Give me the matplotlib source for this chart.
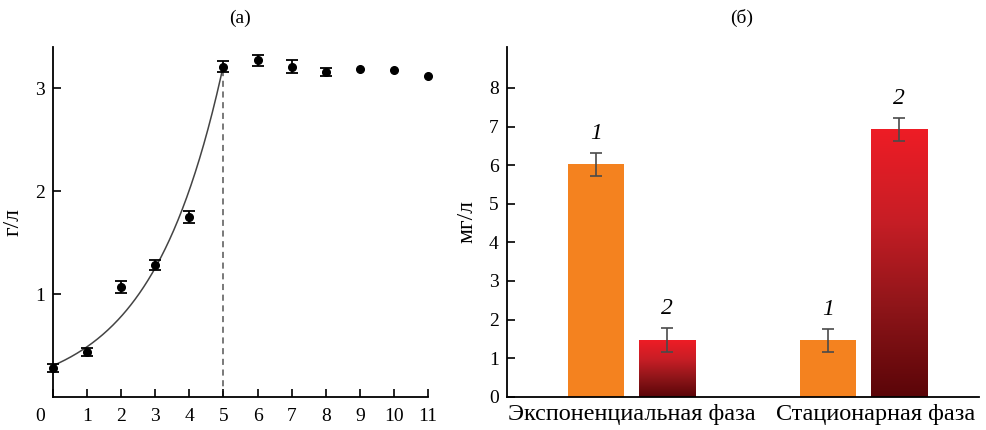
import numpy as np
import matplotlib
matplotlib.use("Agg")
import matplotlib.pyplot as plt
import matplotlib.transforms as mtransforms
from matplotlib.colors import LinearSegmentedColormap

plt.rcParams['font.family'] = ['Liberation Serif', 'DejaVu Serif']

# ---- data (a) ----
days = [0, 1, 2, 3, 4, 5, 6, 7, 8, 9, 10, 11]
biomass = [0.28, 0.44, 1.07, 1.28, 1.75, 3.21, 3.27, 3.21, 3.16, 3.19, 3.18, 3.12]
biomass_err = [0.04, 0.04, 0.06, 0.05, 0.06, 0.05, 0.05, 0.06, 0.04, 0.0, 0.0, 0.0]
exp_phase_end = 5
x_ticks_a = list(range(12))
y_ticks_a = [1, 2, 3]

# ---- data (б) ----
phases = ['Экспоненциальная фаза', 'Стационарная фаза']
series1 = [6.02, 1.46]
series1_err = [0.30, 0.30]
series2 = [1.47, 6.93]
series2_err = [0.30, 0.30]
series_labels = ['1', '2']
y_ticks_b = list(range(9))

fig = plt.figure(figsize=(9.87, 4.30), dpi=100)

# ================= panel (a) =================
axa = fig.add_axes([53/987, 33/430, 375/987, 350/430])
axa.set_xlim(0, 11)
axa.set_ylim(0, 3.4)
for s in ['top', 'right']:
    axa.spines[s].set_visible(False)
for s in ['left', 'bottom']:
    axa.spines[s].set_linewidth(1.3)

# exponential fit over the exponential phase
xa = np.array(days[:exp_phase_end + 1], float)
ya = np.array(biomass[:exp_phase_end + 1], float)
b, lna = np.polyfit(xa, np.log(ya), 1)
xf = np.linspace(0, exp_phase_end, 200)
axa.plot(xf, np.exp(lna) * np.exp(b * xf), color='#444444', lw=1.1, zorder=2)

axa.plot([exp_phase_end, exp_phase_end], [0, biomass[exp_phase_end]],
         ls=(0, (4, 3)), color='#555555', lw=1.1, zorder=1)

d = np.array(days, float)
v = np.array(biomass, float)
e = np.array(biomass_err, float)
has_err = e > 0
axa.errorbar(d[has_err], v[has_err], yerr=e[has_err], fmt='none',
             ecolor='black', elinewidth=1.3, capsize=4.5, capthick=1.3,
             clip_on=False, zorder=3)
axa.plot(d, v, 'o', color='black', ms=5.5, clip_on=False, zorder=4)

axa.set_xticks(x_ticks_a)
axa.set_yticks(y_ticks_a)
axa.tick_params(direction='in', length=6, width=1.2, labelsize=14)
axa.tick_params(axis='x', pad=8)
axa.tick_params(axis='y', pad=6)
lbl0 = axa.get_xticklabels()[0]
lbl0.set_transform(lbl0.get_transform() + mtransforms.ScaledTranslation(-13/100, 0, fig.dpi_scale_trans))
axa.set_ylabel('г/л', fontsize=17, labelpad=8)
fig.text(240/987, 1 - 18/430, '(а)', ha='center', va='center', fontsize=14)

# ================= panel (б) =================
axb = fig.add_axes([507/987, 33.3/430, 472/987, 349.7/430])
for s in ['top', 'right']:
    axb.spines[s].set_visible(False)
for s in ['left', 'bottom']:
    axb.spines[s].set_linewidth(1.3)

pos = np.arange(1, len(phases) + 1)
off = 0.154
w = 0.242
orange = '#F4821F'
bars1 = axb.bar(pos - off, series1, width=w, color=orange, zorder=2)
bars2 = axb.bar(pos + off, series2, width=w, color='none', zorder=2)

red_cmap = LinearSegmentedColormap.from_list('redgrad', ['#5A0508', '#8E1519', '#C81E26', '#EE1C25'])
grad = np.linspace(0, 1, 256).reshape(-1, 1)
for bar in bars2:
    x0, y0 = bar.get_x(), bar.get_y()
    bw, bh = bar.get_width(), bar.get_height()
    im = axb.imshow(grad, cmap=red_cmap, origin='lower', aspect='auto',
                    extent=(x0, x0 + bw, y0, y0 + bh), zorder=2)
    im.set_clip_path(bar)
axb.set_xlim(0.461, 2.50)
axb.set_ylim(0, 9.06)

ekw = dict(fmt='none', ecolor='#4a4a4a', elinewidth=1.2, capsize=4, capthick=1.2, zorder=3)
axb.errorbar(pos - off, series1, yerr=series1_err, **ekw)
axb.errorbar(pos + off, series2, yerr=series2_err, **ekw)

for xs, vals, errs, lab in [(pos - off, series1, series1_err, series_labels[0]),
                            (pos + off, series2, series2_err, series_labels[1])]:
    for x, val, er in zip(xs, vals, errs):
        axb.annotate(lab, (x, val + er), xytext=(0, 14), textcoords='offset points',
                     ha='center', va='center', fontsize=17, style='italic')

axb.set_yticks(y_ticks_b)
axb.set_xticks(pos)
axb.tick_params(axis='y', direction='in', length=6, width=1.2, labelsize=14, pad=6)
axb.tick_params(axis='x', length=0, pad=5)
axb.set_xticklabels(phases, fontsize=17.5)
lbl2 = axb.get_xticklabels()[1]
lbl2.set_transform(lbl2.get_transform() + mtransforms.ScaledTranslation(12/100, 0, fig.dpi_scale_trans))
axb.set_ylabel('мг/л', fontsize=17, labelpad=8)
fig.text(742/987, 1 - 18/430, '(б)', ha='center', va='center', fontsize=14)

fig.savefig('out.png', dpi=100)
